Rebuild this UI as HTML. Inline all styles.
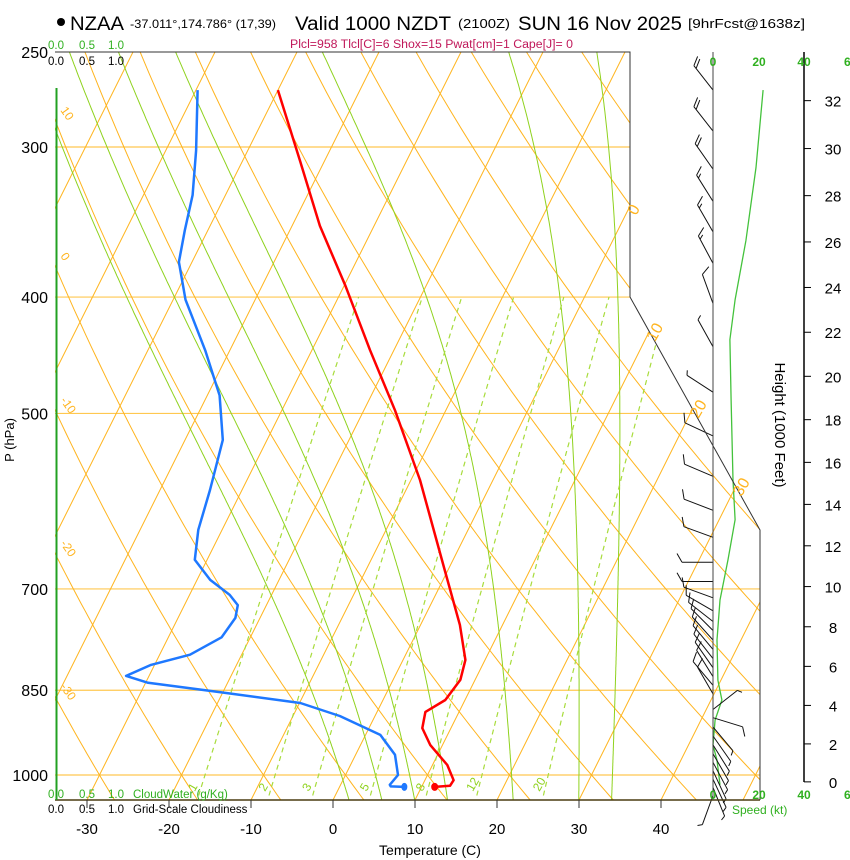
<!DOCTYPE html>
<html><head><meta charset="utf-8"><style>
html,body{margin:0;padding:0;background:#fff;}
svg{display:block;font-family:"Liberation Sans",sans-serif;}
</style></head><body>
<svg id="chart" width="850" height="860" viewBox="0 0 850 860" xmlns="http://www.w3.org/2000/svg">
<defs><clipPath id="plotclip"><polygon points="55,52 630,52 630,297 760,530 760,800 55,800"/></clipPath></defs>
<rect width="850" height="860" fill="#fff"/>
<g>
<circle cx="61" cy="22" r="4" fill="#000"/>
<text x="70" y="30" font-size="19" textLength="54" lengthAdjust="spacingAndGlyphs">NZAA</text>
<text x="130" y="28" font-size="12" textLength="146" lengthAdjust="spacingAndGlyphs">-37.011°,174.786° (17,39)</text>
<text x="295" y="30" font-size="19" textLength="156" lengthAdjust="spacingAndGlyphs">Valid 1000 NZDT</text>
<text x="458" y="28" font-size="13" textLength="52" lengthAdjust="spacingAndGlyphs">(2100Z)</text>
<text x="518" y="30" font-size="19" textLength="164" lengthAdjust="spacingAndGlyphs">SUN 16 Nov 2025</text>
<text x="688" y="28" font-size="13" textLength="117" lengthAdjust="spacingAndGlyphs">[9hrFcst@1638z]</text>
<text x="290" y="48" font-size="11.5" fill="#c0185a" textLength="283" lengthAdjust="spacingAndGlyphs">Plcl=958 Tlcl[C]=6 Shox=15 Pwat[cm]=1 Cape[J]= 0</text>
</g>
<g id="grid" clip-path="url(#plotclip)"></g>
<g id="profiles"></g>
<g id="frame">
<polyline points="55,52 630,52 630,297 760,530 760,800" fill="none" stroke="#333" stroke-width="1"/>
<line x1="55" y1="800" x2="760" y2="800" stroke="#4a3c10" stroke-width="1.5"/>
<line x1="56.5" y1="88" x2="56.5" y2="800" stroke="#22a022" stroke-width="2"/>
<line x1="713" y1="52" x2="713" y2="800" stroke="#444" stroke-width="1"/>
<line x1="804" y1="52" x2="804" y2="782" stroke="#000" stroke-width="1.5"/>
</g>
<g id="labels">
<g font-size="11.5" fill="#30b020"><text x="48" y="49">0.0</text><text x="79" y="49">0.5</text><text x="108" y="49">1.0</text></g>
<g font-size="11.5" fill="#000"><text x="48" y="65">0.0</text><text x="79" y="65">0.5</text><text x="108" y="65">1.0</text></g>
<g font-size="11.5" fill="#30b020"><text x="48" y="798">0.0</text><text x="79" y="798">0.5</text><text x="108" y="798">1.0</text><text x="133" y="798">CloudWater (g/Kg)</text></g>
<g font-size="11.5" fill="#000"><text x="48" y="813">0.0</text><text x="79" y="813">0.5</text><text x="108" y="813">1.0</text><text x="133" y="813">Grid-Scale Cloudiness</text></g>
<text x="430" y="855" font-size="14" text-anchor="middle">Temperature (C)</text>
<text transform="translate(14,440) rotate(-90)" font-size="13" text-anchor="middle">P (hPa)</text>
<text transform="translate(775,425) rotate(90)" font-size="15" text-anchor="middle">Height (1000 Feet)</text>
<g font-size="12" fill="#30b020" font-weight="bold"><text x="713" y="66" text-anchor="middle">0</text><text x="759" y="66" text-anchor="middle">20</text><text x="804" y="66" text-anchor="middle">40</text><text x="844" y="66">6</text></g>
<g font-size="12" fill="#30b020" font-weight="bold"><text x="713" y="799" text-anchor="middle">0</text><text x="759" y="799" text-anchor="middle">20</text><text x="804" y="799" text-anchor="middle">40</text><text x="844" y="799">6</text></g>
<text x="732" y="814" font-size="12" fill="#30b020">Speed (kt)</text>
</g>
</svg>
<script>
const NS = 'http://www.w3.org/2000/svg';
// ---- data ----
const pressureTicks = [250, 300, 400, 500, 700, 850, 1000];
const tempTicks = [-30, -20, -10, 0, 10, 20, 30, 40];
const heightTicksKft = [0, 2, 4, 6, 8, 10, 12, 14, 16, 18, 20, 22, 24, 26, 28, 30, 32];
const isothermLabels = [0, 10, 20, 30];
const dryLabels = [10, 0, -10, -20, -30];
const mixingRatios = [1, 2, 3, 5, 8, 12, 20];
const moistStartT = [2, 6, 10, 14, 22, 30, 34];
const tempP = [269, 308, 349, 391, 443, 497, 568, 675, 750, 802, 833, 866, 886, 914, 944, 981, 1010, 1021, 1023];
const tempT = [-50.0, -43.0, -36.6, -29.9, -22.9, -16.2, -8.9, -0.4, 4.8, 7.6, 8.2, 7.6, 5.9, 6.5, 8.5, 11.8, 13.5, 13.4, 11.6];
const dewP = [269, 302, 329, 352, 374, 402, 443, 483, 526, 579, 625, 662, 688, 708, 722, 740, 768, 794, 810, 827, 838, 853, 871, 893, 926, 962, 1000, 1019, 1022, 1023];
const dewT = [-59.8, -56.3, -54.0, -52.8, -51.6, -48.5, -43.0, -38.5, -35.4, -33.9, -32.9, -31.5, -28.4, -25.1, -23.5, -23.0, -23.5, -26.3, -30.5, -32.8, -29.7, -20.4, -9.9, -4.3, 1.8, 4.8, 6.4, 6.0, 6.2, 7.9];
const speedP = [269, 312, 359, 402, 434, 487, 568, 613, 662, 715, 772, 834, 866, 900, 944, 972, 1019];
const speedKt = [21.3, 18.3, 14.0, 9.4, 7.2, 7.7, 8.5, 9.4, 6.4, 3.0, 1.7, 2.1, 3.8, 0.9, 0, 1.7, 3.0];
const barbP = [269, 291, 313, 333, 353, 375, 405, 440, 480, 522, 564, 602, 634, 665, 690, 712, 730, 745, 758, 772, 786, 800, 814, 828, 842, 856, 882, 896, 912, 928, 944, 960, 976, 992, 1008, 1024, 1040];
const barbDir = [322, 322, 325, 328, 330, 332, 340, 331, 303, 295, 293, 291, 290, 270, 270, 290, 300, 308, 315, 318, 320, 322, 325, 328, 320, 330, 52, 107, 140, 145, 148, 150, 152, 155, 155, 158, 200];
const barbSpd = [20, 20, 20, 15, 15, 15, 10, 8, 8, 10, 10, 10, 10, 10, 10, 10, 10, 10, 10, 10, 10, 10, 10, 10, 10, 10, 5, 10, 8, 8, 8, 8, 6, 6, 5, 5, 5];

// ---- axes ----
function Y(p) { return 775 + 521.6 * Math.log(p / 1000); }
function X(T, p) { return 333 + 8.2 * T + 0.5 * (800 - Y(p)); }
function hToP(kft) { const z = kft * 304.8; return 1013.25 * Math.pow(1 - 2.25577e-5 * z, 5.25588); }
function mk(tag, attrs, parent) { const e = document.createElementNS(NS, tag); for (const k in attrs) e.setAttribute(k, attrs[k]); parent.appendChild(e); return e; }
function ptsStr(arr) { return arr.map(a => X(a[0], a[1]).toFixed(1) + ',' + Y(a[1]).toFixed(1)).join(' '); }

const grid = document.getElementById('grid');
const prof = document.getElementById('profiles');
const labels = document.getElementById('labels');
const ORANGE = '#ffb41e';

// isobars
pressureTicks.forEach(p => {
  if (p === 250) return;
  const l = mk('line', {x1: 55, x2: 760, y1: Y(p), y2: Y(p), stroke: '#ffc850', 'stroke-width': 1.2}, grid);
  
  
});
pressureTicks.forEach(p => {
  const t = mk('text', {x: 48, y: Y(p) + 6, 'font-size': 16, 'text-anchor': 'end'}, labels);
  t.textContent = p;
  
  
});
// isotherms
for (let T = -110; T <= 50; T += 10) {
  const l = mk('line', {x1: X(T, 1060), y1: Y(1060), x2: X(T, 240), y2: Y(240), stroke: ORANGE, 'stroke-width': 1}, grid);
  
  
}
// dry adiabats
for (let th = -40; th <= 200; th += 10) {
  const pts = [];
  for (let p = 1060; p >= 240; p -= 10) pts.push([(th + 273.15) * Math.pow(p / 1000, 0.2857) - 273.15, p]);
  const l = mk('polyline', {points: ptsStr(pts), fill: 'none', stroke: ORANGE, 'stroke-width': 1}, grid);
  
  
}
// moist adiabats
moistStartT.forEach(T0 => {
  let T = T0 + 273.15; const pts = [];
  for (let p = 1050; p >= 240; p -= 2) {
    pts.push([T - 273.15, p]);
    const es = 6.112 * Math.exp(17.67 * (T - 273.15) / (T - 29.65));
    const rs = 0.622 * es / (p - es);
    const dTdp = (287 * T + 2.5e6 * rs) / (1005 + 2.5e6 * 2.5e6 * rs * 0.622 / (287 * T * T)) / p;
    T -= dTdp * 2;
  }
  const l = mk('polyline', {points: ptsStr(pts), fill: 'none', stroke: '#8fd21e', 'stroke-width': 1}, grid);
  
  
});
// mixing ratio lines
function tdFromW(w, p) { const e = w * p / (622 + w); const a = Math.log(e / 6.112); return 243.5 * a / (17.67 - a); }
mixingRatios.forEach(w => {
  const pts = [];
  for (let p = 1040; p >= 400; p -= 10) pts.push([tdFromW(w, p), p]);
  const l = mk('polyline', {points: ptsStr(pts), fill: 'none', stroke: '#a8dc3c', 'stroke-width': 1.2, 'stroke-dasharray': '5,4'}, grid);
  
  
  const x = X(tdFromW(w, 1040), 1040);
  const t = mk('text', {transform: 'translate(' + (x - 4) + ',' + 792 + ') rotate(-60)', 'font-size': 12, fill: '#8fd21e'}, labels);
  t.textContent = w;
  
  
});
// isotherm labels on right border
isothermLabels.forEach(T => {
  // find intersection with border
  let pHit = 250;
  for (let p = 250; p <= 1050; p += 1) {
    const x = X(T, p), y = Y(p);
    const bx = y <= 297 ? 630 : (y <= 530 ? 630 + (y - 297) * 130 / 233 : 760);
    if (x <= bx) { pHit = p; break; }
  }
  const t = mk('text', {transform: 'translate(' + (X(T, pHit) + 6) + ',' + (Y(pHit) + 10) + ') rotate(-60)', 'font-size': 16, fill: ORANGE}, labels);
  t.textContent = T;
  
  
});
// dry adiabat labels on left border
dryLabels.forEach(th => {
  let pHit = 250;
  for (let p = 250; p <= 1050; p += 1) {
    if (X((th + 273.15) * Math.pow(p / 1000, 0.2857) - 273.15, p) >= 55) { pHit = p; break; }
  }
  const t = mk('text', {transform: 'translate(' + 60 + ',' + (Y(pHit) - 10) + ') rotate(55)', 'font-size': 12, fill: ORANGE}, labels);
  t.textContent = th;
  
  
});
// temperature ticks
tempTicks.forEach(T => {
  const x = 333 + 8.2 * T;
  const tk = mk('line', {x1: x, x2: x, y1: 800, y2: 808, stroke: '#333'}, labels);
  
  
  const t = mk('text', {x: x, y: 834, 'font-size': 15, 'text-anchor': 'middle'}, labels);
  t.textContent = T;
  
  
});
// height ticks
heightTicksKft.forEach(h => {
  const y = Y(hToP(h));
  const tk = mk('line', {x1: 804, x2: 811, y1: y, y2: y, stroke: '#000'}, labels);
  
  
  const t = mk('text', {x: 833, y: y + 6, 'font-size': 15, 'text-anchor': 'middle'}, labels);
  t.textContent = h;
  
  
});
// profiles
const tl = mk('polyline', {points: ptsStr(tempT.map((T, i) => [T, tempP[i]])), fill: 'none', stroke: '#ff0000', 'stroke-width': 2.5, 'stroke-linejoin': 'round'}, prof);


const dl = mk('polyline', {points: ptsStr(dewT.map((T, i) => [T, dewP[i]])), fill: 'none', stroke: '#1e78ff', 'stroke-width': 2.5, 'stroke-linejoin': 'round'}, prof);


const tdot = mk('ellipse', {cx: X(tempT[tempT.length - 1], tempP[tempP.length - 1]), cy: Y(tempP[tempP.length - 1]), rx: 3.5, ry: 4, fill: '#ff0000'}, prof);


const ddot = mk('ellipse', {cx: X(dewT[dewT.length - 1], dewP[dewP.length - 1]), cy: Y(dewP[dewP.length - 1]), rx: 3, ry: 4, fill: '#1e78ff'}, prof);


// wind speed curve
const sp = mk('polyline', {points: speedKt.map((s, i) => (713 + s * 2.35).toFixed(1) + ',' + Y(speedP[i]).toFixed(1)).join(' '), fill: 'none', stroke: '#44c23c', 'stroke-width': 1.3}, prof);


// wind barbs
barbP.forEach((p, i) => {
  const bx = 713, by = Y(p);
  const a = barbDir[i] * Math.PI / 180;
  const ux = Math.sin(a), uy = -Math.cos(a);
  const L = 31;
  const tx = bx + ux * L, ty = by + uy * L;
  let d = 'M' + bx + ',' + by.toFixed(1) + 'L' + tx.toFixed(1) + ',' + ty.toFixed(1);
  const r = 60 * Math.PI / 180;
  const fx = ux * Math.cos(r) - uy * Math.sin(r), fy = ux * Math.sin(r) + uy * Math.cos(r);
  let s = barbSpd[i], k = 0;
  while (s >= 5) {
    const len = s >= 10 ? 10 : 5;
    const sx = tx - ux * k * 3.5, sy = ty - uy * k * 3.5;
    d += 'M' + sx.toFixed(1) + ',' + sy.toFixed(1) + 'l' + (fx * len).toFixed(1) + ',' + (fy * len).toFixed(1);
    s -= len; k++;
  }
  const b = mk('path', {d: d, fill: 'none', stroke: '#111', 'stroke-width': 1}, prof);
  
  
});
</script>
</body></html>
